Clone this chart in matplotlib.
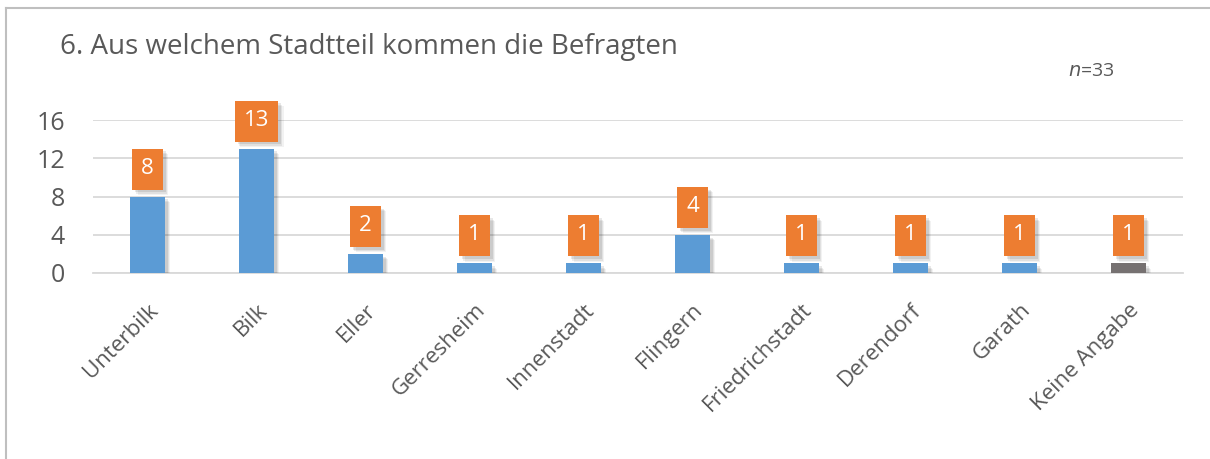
import matplotlib
matplotlib.use("Agg")
import matplotlib.pyplot as plt
from matplotlib.path import Path
from matplotlib.lines import Line2D
import matplotlib.patheffects as pe

categories = ["Unterbilk", "Bilk", "Eller", "Gerresheim", "Innenstadt", "Flingern",
              "Friedrichstadt", "Derendorf", "Garath", "Keine Angabe"]
values = [8, 13, 2, 1, 1, 4, 1, 1, 1, 1]
bar_colors = ["#5B9BD5"] * 9 + ["#767171"]
yticks = [0, 4, 8, 12, 16]
title = "6. Aus welchem Stadtteil kommen die Befragten"

plt.rcParams['font.family'] = ['Open Sans', 'DejaVu Sans']
TXT = "#595959"

fig = plt.figure(figsize=(12.10, 4.59), dpi=100)
ax = fig.add_axes([93/1210, 1 - 273/459, 1090/1210, 153/459])

shadow = [pe.SimplePatchShadow(offset=(4, -4), shadow_rgbFace="#000000", alpha=0.05),
          pe.SimplePatchShadow(offset=(3, -3), shadow_rgbFace="#000000", alpha=0.07),
          pe.SimplePatchShadow(offset=(2, -2), shadow_rgbFace="#000000", alpha=0.09),
          pe.Normal()]
x = list(range(len(categories)))
bars = ax.bar(x, values, width=0.32, color=bar_colors, zorder=3)
for b in bars:
    b.set_path_effects(shadow)

ax.set_xlim(-0.5, len(categories) - 0.5)
ax.set_ylim(0, 16)
ax.set_yticks(yticks)
ax.set_yticklabels([str(t) for t in yticks])
ax.yaxis.grid(True, color="#D9D9D9", linewidth=1.3, zorder=0)
ax.set_axisbelow(True)
for s in ["top", "right", "left"]:
    ax.spines[s].set_visible(False)
ax.spines["bottom"].set_color("#D9D9D9")
ax.spines["bottom"].set_linewidth(1.3)
ax.tick_params(axis="y", length=0, pad=20, labelsize=18, labelcolor=TXT)
ax.tick_params(axis="x", length=0, pad=19, labelsize=16, labelcolor=TXT)
ax.set_xticks(x)
ax.set_xticklabels(categories, rotation=45, ha="right", rotation_mode="anchor")


def fixed_box(x0, y0, width, height, mutation_size):
    cx = x0 + width / 2.0
    cy = y0 + height / 2.0 - 1
    w = width + 18
    h = 41
    return Path([(cx - w/2, cy - h/2), (cx + w/2, cy - h/2), (cx + w/2, cy + h/2),
                 (cx - w/2, cy + h/2), (cx - w/2, cy - h/2)],
                [Path.MOVETO, Path.LINETO, Path.LINETO, Path.LINETO, Path.CLOSEPOLY])


for xi, v in zip(x, values):
    t = ax.annotate(str(v), xy=(xi, v), xytext=(0, 7 + 20.5 + 1), textcoords="offset pixels",
                    ha="center", va="center", fontsize=16, color="white",
                    bbox=dict(boxstyle=fixed_box, facecolor="#ED7D31", edgecolor="none"),
                    zorder=5, annotation_clip=False)
    t.get_bbox_patch().set_path_effects(shadow)

fig.text(60/1210, 1 - 47/459, title, fontsize=20, color=TXT, va="center", ha="left")
fig.text(1068/1210, 1 - 71/459, "$n$=33", fontsize=14, color=TXT, va="center", ha="left")

fig.add_artist(Line2D([5.5/1210, 5.5/1210], [0, 1 - 8/459], transform=fig.transFigure,
                      color="#BFBFBF", linewidth=1.5))
fig.add_artist(Line2D([5.5/1210, 1], [1 - 8/459, 1 - 8/459], transform=fig.transFigure,
                      color="#BFBFBF", linewidth=1.5))

fig.savefig("out.png", dpi=100)
